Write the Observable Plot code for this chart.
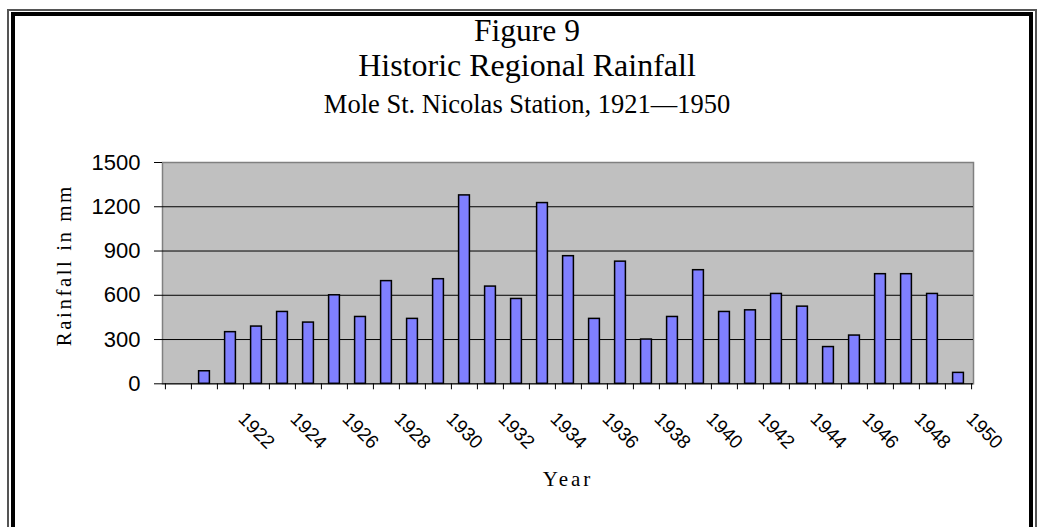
<!DOCTYPE html>
<html><head><meta charset="utf-8">
<script src="https://cdn.jsdelivr.net/npm/d3@7"></script>
<script src="https://cdn.jsdelivr.net/npm/@observablehq/plot@0.6"></script>
<style>
html,body{margin:0;padding:0;background:#fff;}
body{width:1039px;height:527px;overflow:hidden;position:relative;}
#outer{position:absolute;left:7px;top:9px;width:1030px;height:600px;border:2px solid #555;box-sizing:border-box;}
#inner{position:absolute;left:11px;top:12px;width:1022px;height:600px;border:4px solid #000;box-sizing:border-box;}
.t{position:absolute;left:0;width:1054px;text-align:center;font-family:"Liberation Serif","Times New Roman",serif;color:#000;line-height:1;white-space:nowrap;}
#chart{position:absolute;left:0;top:130px;}
#chart svg{overflow:visible;}
#chart g[aria-label="x-axis label"] text{letter-spacing:3px;}
</style>
</head><body>
<div id="outer"></div><div id="inner"></div>
<div class="t" style="top:15px;font-size:31.5px;">Figure 9</div>
<div class="t" style="top:49px;font-size:32px;">Historic Regional Rainfall</div>
<div class="t" style="top:91px;font-size:26.5px;">Mole St. Nicolas Station, 1921—1950</div>
<div id="chart"></div>
<script>
// ---- data ----
const categories = ["", "1921","1922","1923","1924","1925","1926","1927","1928","1929","1930",
  "1931","1932","1933","1934","1935","1936","1937","1938","1939","1940",
  "1941","1942","1943","1944","1945","1946","1947","1948","1949","1950"];
const years = categories.slice(1);
const rainfall = [85,350,388,487,415,600,453,696,440,709,
  1277,659,575,1225,865,440,828,300,453,770,
  487,498,609,523,249,327,743,743,609,74];
const xTickLabels = ["1922","1924","1926","1928","1930","1932","1934","1936","1938","1940","1942","1944","1946","1948","1950"];
const yTicks = [0,300,600,900,1200,1500];
const gridTicks = [300,600,900,1200];
const yTitle = ["Rainfall in mm"];

const table = years.map((y,i) => ({year: y, rain: rainfall[i]}));

const W = 1039, H = 397, mL = 162, mR = 66, mT = 32, mB = 143.7;
const step = (W - mL - mR) / categories.length;
const sans = "'Liberation Sans', Arial, sans-serif";
const serif = "'Liberation Serif', 'Times New Roman', serif";

const chart = Plot.plot({
  width: W, height: H,
  marginLeft: mL, marginRight: mR, marginTop: mT, marginBottom: mB,
  style: {fontFamily: sans, color: "#000", background: "transparent", overflow: "visible"},
  x: {type: "band", domain: categories, padding: 0},
  y: {domain: [0, 1500]},
  marks: [
    Plot.frame({fill: "#c0c0c0", stroke: "#808080", strokeWidth: 1.5}),
    Plot.gridY(gridTicks, {stroke: "#000", strokeOpacity: 1, strokeWidth: 1}),
    Plot.barY(table, {x: "year", y: "rain", fill: "#8080ff", stroke: "#000", strokeWidth: 1.5, insetLeft: 7.6, insetRight: 7.6}),
    Plot.ruleY([0], {stroke: "#000", strokeWidth: 1}),
    Plot.axisY({ticks: yTicks, tickSize: 8, tickPadding: 14, fontSize: 22, fontFamily: sans, tickFormat: d => String(d), label: null}),
    Plot.text(yTitle, {frameAnchor: "left", textAnchor: "middle", lineAnchor: "middle", rotate: -90, dx: -98, dy: -8, fontSize: 21, fontFamily: serif, fill: "#000", text: d => d}),
    Plot.axisX({ticks: categories, tickSize: 6, tickFormat: () => "", dx: -step/2, label: null}),
    Plot.axisX({ticks: [categories[categories.length-1]], tickSize: 6, tickFormat: () => "", dx: step/2, label: null}),
    Plot.axisX({ticks: xTickLabels, tickSize: 0, tickPadding: 32, tickRotate: 45, dx: 11, fontSize: 19, fontFamily: sans, label: null}),
    Plot.axisX({ticks: [], label: "Year", labelAnchor: "center", labelOffset: 102, fontSize: 21, fontFamily: serif})
  ]
});
chart.querySelectorAll('g[aria-label="text"] text').forEach(t => t.style.letterSpacing = "2.5px");
document.getElementById("chart").appendChild(chart);
</script>
</body></html>
